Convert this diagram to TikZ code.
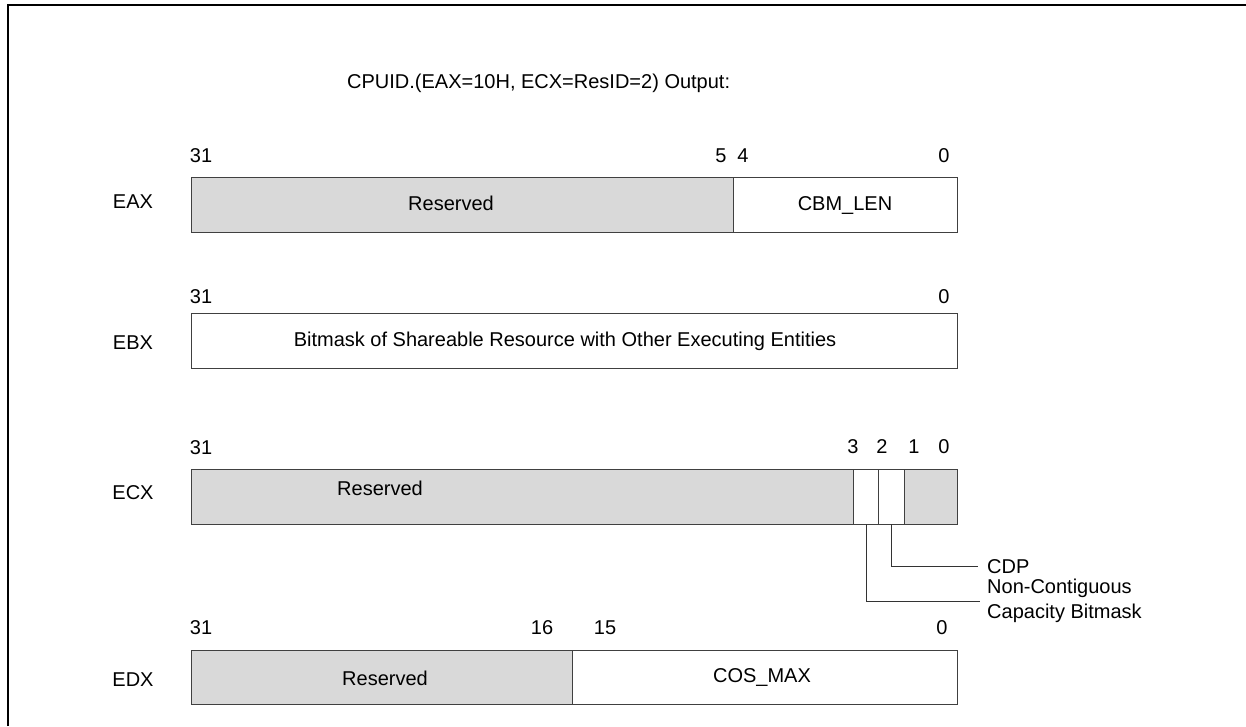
\documentclass[tikz,border=0pt]{standalone}
\usepackage{fontspec}
\setmainfont{Liberation Sans}
\definecolor{resgray}{HTML}{D9D9D9}
\definecolor{edge}{HTML}{404040}
\begin{document}
\begin{tikzpicture}[x=1pt,y=-1pt,
  every node/.style={font=\fontsize{20}{24}\selectfont, inner sep=0pt},
  fld/.style={draw=edge, line width=1pt},
  res/.style={fld, fill=resgray},
  wht/.style={fld, fill=white},
  lead/.style={draw=black!80, line width=1pt}]
\useasboundingbox (0,0) rectangle (1246,726);
\draw[line width=2.2pt] (8,726) -- (8,5) -- (1246,5);
\node[anchor=west] (title) at (347,83) {CPUID.(EAX=10H, ECX=ResID=2) Output:};
% EAX
\node (eaxl) at (133,202) {EAX};
\draw[res] (191,177) rectangle (733,232);
\draw[wht] (733,177) rectangle (957,232);
\node (eaxres) at (451,203) {Reserved};
\node (eaxcbm) at (845,205) {CBM\_LEN};
\node (eax31) at (201,156) {31};
\node (eax5) at (721,156) {5};
\node (eax4) at (743,156) {4};
\node (eax0) at (944,156) {0};
% EBX
\node (ebxl) at (133,343) {EBX};
\draw[wht] (191,313) rectangle (957,368);
\node (ebxtxt) at (565,341) {Bitmask of Shareable Resource with Other Executing Entities};
\node (ebx31) at (201,297) {31};
\node (ebx0) at (944,297) {0};
% ECX
\node (ecxl) at (133,493) {ECX};
\draw[res] (191,469) rectangle (957,524);
\draw[wht] (853,469) rectangle (878,524);
\draw[wht] (878,469) rectangle (904,524);
\node (ecxres) at (380,488) {Reserved};
\node (ecx31) at (201,448) {31};
\node (ecx3) at (853,447) {3};
\node (ecx2) at (882,447) {2};
\node (ecx1) at (914,447) {1};
\node (ecx0) at (944,447) {0};
\coordinate (b3) at (866,524);
\coordinate (b2) at (891,524);
\coordinate (e2) at (978,566);
\coordinate (e3) at (980,601);
\draw[lead] (b2) |- (e2);
\draw[lead] (b3) |- (e3);
\node[anchor=west] (cdp) at (987,567) {CDP};
\node[anchor=west] (ncb1) at (987,588) {Non-Contiguous};
\node[anchor=west] (ncb2) at (987,613) {Capacity Bitmask};
% EDX
\node (edxl) at (133,680) {EDX};
\draw[res] (191,650) rectangle (572,704);
\draw[wht] (572,650) rectangle (957,704);
\node (edxres) at (385,678) {Reserved};
\node (edxcos) at (762,677) {COS\_MAX};
\node (edx31) at (201,628) {31};
\node (edx16) at (542,628) {16};
\node (edx15) at (605,628) {15};
\node (edx0) at (942,628) {0};
\end{tikzpicture}
\end{document}
